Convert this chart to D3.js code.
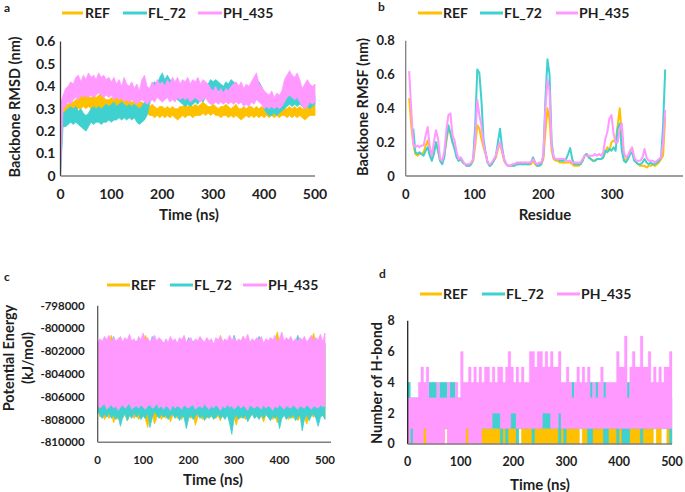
<!DOCTYPE html>
<html><head><meta charset="utf-8">
<script src="https://cdn.jsdelivr.net/npm/d3@7"></script>
<style>
body{margin:0;background:#fff}
text{font-family:Lato,"Open Sans",sans-serif;font-weight:700;fill:#1e1e1e}
</style>
</head><body>
<svg id="chart" width="685" height="492"></svg>
<script>
// ---------- shared ----------
const seriesNames = ["REF", "FL_72", "PH_435"];
const seriesColors = ["#FFC000", "#3FD0D0", "#FF99FF"];
const timeNs = d3.range(0, 501, 5);            // 0..500 ns, 5 ns bins
const residues = d3.range(5, 378, 3);          // residue numbers

// ---------- panel a : backbone RMSD (band low / high per 5 ns) ----------
const rmsdRefLo = [0.30,0.27,0.27,0.28,0.28,0.29,0.29,0.30,0.30,0.31,0.30,0.31,0.30,0.31,0.30,0.31,0.30,0.31,0.30,0.29,0.30,0.31,0.30,0.31,0.30,0.31,0.30,0.31,0.30,0.29,0.30,0.29,0.30,0.29,0.28,0.27,0.27,0.26,0.27,0.26,0.27,0.26,0.27,0.26,0.27,0.26,0.25,0.26,0.27,0.26,0.27,0.27,0.26,0.27,0.27,0.27,0.28,0.27,0.28,0.27,0.28,0.27,0.27,0.26,0.27,0.27,0.26,0.27,0.26,0.27,0.26,0.25,0.26,0.27,0.26,0.27,0.26,0.27,0.26,0.27,0.26,0.27,0.26,0.27,0.26,0.27,0.26,0.27,0.27,0.26,0.27,0.26,0.27,0.26,0.27,0.26,0.25,0.26,0.27,0.27,0.27];
const rmsdRefHi = [0.34,0.31,0.32,0.32,0.33,0.33,0.34,0.35,0.36,0.35,0.36,0.35,0.35,0.36,0.35,0.36,0.37,0.35,0.34,0.34,0.35,0.34,0.35,0.35,0.36,0.35,0.34,0.34,0.33,0.33,0.34,0.33,0.33,0.32,0.31,0.31,0.32,0.31,0.30,0.31,0.31,0.30,0.31,0.30,0.31,0.30,0.30,0.31,0.31,0.32,0.31,0.32,0.31,0.32,0.31,0.32,0.33,0.32,0.31,0.31,0.32,0.31,0.30,0.31,0.31,0.32,0.31,0.30,0.31,0.32,0.30,0.30,0.31,0.30,0.31,0.31,0.30,0.31,0.30,0.31,0.30,0.30,0.31,0.30,0.30,0.31,0.30,0.31,0.30,0.30,0.31,0.30,0.31,0.30,0.31,0.30,0.30,0.31,0.32,0.31,0.32];
const rmsdFlLo  = [0.00,0.22,0.22,0.23,0.24,0.23,0.24,0.23,0.22,0.21,0.20,0.22,0.24,0.23,0.24,0.24,0.23,0.24,0.24,0.25,0.24,0.25,0.25,0.26,0.25,0.26,0.25,0.26,0.25,0.26,0.24,0.23,0.24,0.25,0.27,0.32,0.36,0.37,0.36,0.37,0.38,0.37,0.38,0.37,0.36,0.35,0.34,0.33,0.32,0.31,0.32,0.31,0.32,0.33,0.32,0.34,0.33,0.35,0.36,0.37,0.38,0.37,0.38,0.37,0.36,0.37,0.36,0.37,0.38,0.36,0.34,0.33,0.32,0.33,0.34,0.35,0.37,0.38,0.37,0.35,0.30,0.28,0.27,0.27,0.28,0.27,0.28,0.29,0.30,0.31,0.32,0.31,0.32,0.31,0.32,0.31,0.30,0.31,0.30,0.31,0.32];
const rmsdFlHi  = [0.30,0.28,0.29,0.30,0.31,0.30,0.31,0.29,0.30,0.28,0.27,0.28,0.30,0.31,0.30,0.31,0.30,0.31,0.32,0.31,0.32,0.33,0.31,0.32,0.33,0.32,0.31,0.32,0.31,0.32,0.31,0.30,0.31,0.33,0.35,0.39,0.41,0.42,0.41,0.44,0.46,0.43,0.45,0.43,0.42,0.41,0.40,0.38,0.37,0.36,0.37,0.36,0.38,0.37,0.38,0.39,0.38,0.40,0.41,0.43,0.42,0.43,0.42,0.41,0.40,0.42,0.41,0.43,0.42,0.41,0.39,0.38,0.37,0.38,0.39,0.40,0.42,0.43,0.42,0.40,0.35,0.33,0.32,0.31,0.32,0.31,0.33,0.34,0.35,0.36,0.37,0.36,0.37,0.36,0.37,0.35,0.34,0.35,0.34,0.35,0.36];
const rmsdPhLo  = [0.00,0.30,0.31,0.33,0.32,0.34,0.35,0.34,0.36,0.35,0.36,0.35,0.36,0.35,0.36,0.37,0.36,0.35,0.36,0.35,0.36,0.34,0.35,0.34,0.35,0.33,0.34,0.33,0.34,0.33,0.32,0.33,0.34,0.33,0.32,0.33,0.34,0.33,0.35,0.34,0.33,0.34,0.35,0.33,0.34,0.33,0.35,0.34,0.35,0.34,0.35,0.33,0.34,0.35,0.34,0.33,0.34,0.35,0.33,0.32,0.32,0.33,0.32,0.33,0.32,0.33,0.32,0.33,0.32,0.33,0.32,0.33,0.31,0.32,0.31,0.33,0.32,0.34,0.33,0.32,0.30,0.31,0.30,0.31,0.30,0.31,0.30,0.31,0.33,0.35,0.36,0.35,0.34,0.35,0.33,0.31,0.30,0.31,0.33,0.32,0.33];
const rmsdPhHi  = [0.32,0.36,0.39,0.40,0.42,0.41,0.44,0.45,0.42,0.45,0.43,0.46,0.44,0.45,0.43,0.46,0.44,0.45,0.43,0.44,0.42,0.44,0.41,0.43,0.40,0.44,0.41,0.40,0.42,0.39,0.41,0.38,0.43,0.45,0.40,0.39,0.42,0.40,0.43,0.41,0.42,0.40,0.43,0.41,0.44,0.42,0.44,0.41,0.43,0.42,0.44,0.41,0.43,0.42,0.44,0.41,0.43,0.42,0.41,0.39,0.38,0.40,0.37,0.39,0.37,0.39,0.38,0.40,0.41,0.42,0.40,0.42,0.39,0.41,0.40,0.42,0.44,0.46,0.41,0.40,0.38,0.37,0.36,0.38,0.35,0.37,0.36,0.38,0.43,0.45,0.47,0.45,0.44,0.46,0.43,0.39,0.41,0.43,0.41,0.40,0.41];

// ---------- panel b : backbone RMSF per residue ----------
const rmsfRef = [0.46,0.30,0.19,0.13,0.12,0.13,0.13,0.14,0.18,0.21,0.14,0.10,0.14,0.20,0.15,0.09,0.08,0.12,0.20,0.28,0.26,0.20,0.17,0.12,0.09,0.10,0.08,0.07,0.06,0.06,0.07,0.09,0.18,0.30,0.28,0.22,0.17,0.13,0.08,0.06,0.07,0.09,0.11,0.16,0.19,0.14,0.09,0.07,0.06,0.06,0.06,0.07,0.07,0.07,0.08,0.07,0.08,0.07,0.07,0.07,0.09,0.07,0.06,0.07,0.07,0.10,0.26,0.40,0.33,0.15,0.10,0.09,0.09,0.08,0.08,0.08,0.08,0.08,0.08,0.07,0.06,0.06,0.06,0.07,0.09,0.12,0.13,0.11,0.10,0.09,0.09,0.10,0.10,0.10,0.11,0.14,0.17,0.15,0.20,0.21,0.20,0.30,0.40,0.25,0.10,0.09,0.11,0.15,0.16,0.10,0.08,0.07,0.06,0.06,0.06,0.05,0.06,0.06,0.07,0.06,0.07,0.08,0.10,0.12,0.35];
const rmsfFl  = [null,null,0.28,0.14,0.13,0.14,0.13,0.12,0.15,0.17,0.12,0.09,0.13,0.20,0.15,0.09,0.07,0.11,0.22,0.30,0.25,0.20,0.16,0.11,0.09,0.10,0.08,0.07,0.06,0.06,0.07,0.10,0.30,0.63,0.61,0.45,0.22,0.14,0.08,0.06,0.07,0.09,0.12,0.20,0.28,0.17,0.10,0.07,0.06,0.06,0.06,0.06,0.07,0.07,0.07,0.07,0.07,0.07,0.07,0.08,0.11,0.08,0.06,0.06,0.07,0.12,0.45,0.69,0.60,0.20,0.11,0.10,0.10,0.09,0.09,0.09,0.10,0.13,0.165,0.10,0.07,0.07,0.07,0.07,0.09,0.12,0.13,0.11,0.10,0.09,0.09,0.10,0.10,0.10,0.11,0.15,0.14,0.16,0.15,0.17,0.15,0.28,0.31,0.15,0.09,0.08,0.10,0.13,0.14,0.09,0.08,0.07,0.07,0.08,0.10,0.08,0.07,0.08,0.07,0.07,0.08,0.09,0.11,0.30,0.63];
const rmsfPh  = [0.62,0.40,0.19,0.17,0.18,0.17,0.18,0.18,0.24,0.29,0.17,0.12,0.20,0.27,0.22,0.10,0.09,0.14,0.27,0.36,0.37,0.24,0.21,0.14,0.10,0.11,0.09,0.07,0.07,0.07,0.08,0.10,0.22,0.45,0.36,0.30,0.19,0.14,0.08,0.07,0.08,0.10,0.12,0.17,0.20,0.15,0.10,0.07,0.06,0.06,0.07,0.07,0.08,0.08,0.08,0.08,0.08,0.08,0.08,0.08,0.10,0.08,0.07,0.08,0.08,0.12,0.40,0.57,0.50,0.18,0.11,0.10,0.10,0.10,0.10,0.10,0.09,0.09,0.09,0.08,0.08,0.08,0.08,0.08,0.10,0.12,0.12,0.12,0.12,0.12,0.13,0.12,0.13,0.12,0.14,0.22,0.26,0.34,0.36,0.25,0.20,0.20,0.28,0.31,0.14,0.11,0.12,0.15,0.17,0.11,0.09,0.09,0.09,0.11,0.16,0.11,0.09,0.09,0.09,0.08,0.09,0.10,0.11,0.20,0.39];

// ---------- panel c : potential energy (band low / high per 5 ns) ----------
const peRefLo = [-807000,-807800,-807500,-808000,-807600,-807900,-807400,-808300,-807700,-808000,-807600,-807900,-807500,-808100,-807700,-807400,-807900,-807600,-808000,-807700,-807500,-808000,-808700,-807700,-807600,-808400,-807800,-807500,-808000,-807700,-807900,-807600,-808200,-807700,-807500,-807900,-807700,-808000,-807600,-807800,-807700,-807900,-807600,-808500,-807800,-807600,-808000,-807700,-807900,-807600,-807800,-807500,-807900,-807700,-808100,-807600,-807800,-807500,-807900,-807700,-807800,-808500,-807600,-807900,-807700,-808000,-807600,-807800,-807500,-807900,-807600,-807900,-807700,-808200,-807600,-807800,-807500,-808000,-807700,-808300,-807700,-807900,-807600,-807800,-808000,-807600,-807900,-807700,-808100,-807800,-807600,-807900,-808400,-807700,-807600,-807800,-807500,-807900,-807700,-807600,-807900];
const peRefHi = [-801400,-801200,-801300,-801100,-801400,-801200,-800600,-801300,-801100,-801400,-801200,-801300,-801100,-801400,-801200,-801300,-801100,-801400,-801200,-801300,-801100,-800600,-801200,-801400,-801100,-801300,-801200,-801400,-801100,-801300,-801200,-801400,-801100,-801300,-801200,-801400,-801100,-801300,-801200,-801400,-801100,-801300,-801200,-801400,-801100,-801300,-801200,-801400,-801100,-801300,-801200,-801400,-801100,-801300,-800600,-801200,-801400,-801100,-801300,-801200,-801400,-801100,-801300,-801200,-800700,-801400,-801100,-801300,-801200,-801400,-801100,-801300,-801200,-801400,-801100,-801300,-801200,-801400,-801100,-800300,-801200,-801400,-801100,-801300,-801200,-801400,-801100,-801300,-801200,-801400,-801100,-801300,-801200,-801400,-801100,-800400,-801300,-801200,-801400,-801100,-801300];
const peFlLo  = [-807200,-807600,-807900,-807500,-807800,-807400,-807900,-807600,-808000,-807700,-808600,-807800,-807500,-808100,-807600,-807900,-807400,-807800,-807500,-808000,-807700,-807900,-807400,-808700,-807800,-807300,-807600,-807900,-807500,-807800,-807600,-808000,-807700,-807500,-807900,-807600,-808100,-807700,-807800,-808800,-807900,-807600,-808000,-807700,-807500,-807900,-807600,-808100,-807700,-807900,-807600,-808000,-807800,-807500,-807900,-807700,-808000,-807600,-808300,-809300,-807900,-807600,-808000,-807700,-807900,-807600,-808200,-807800,-807500,-807900,-807700,-808000,-807600,-807900,-807500,-807800,-808100,-807700,-807900,-807600,-808800,-807900,-807600,-808000,-807700,-807900,-807500,-808100,-807800,-807600,-809000,-807900,-807600,-808100,-807700,-807500,-807900,-808600,-807800,-807600,-808000];
const peFlHi  = [-801500,-801200,-801400,-801100,-801300,-801200,-801400,-800700,-801300,-801100,-801400,-801200,-801300,-801100,-801400,-801200,-801300,-801100,-801200,-801400,-801200,-801300,-801100,-801400,-800700,-801300,-801200,-801400,-801100,-801300,-801200,-801400,-801100,-801300,-801200,-801400,-801100,-801300,-801200,-801400,-800800,-801300,-801100,-801400,-801200,-801300,-801100,-801400,-801200,-801300,-801100,-801400,-801200,-801300,-801100,-801400,-801200,-801300,-801100,-801400,-800600,-801200,-801300,-801100,-801400,-801200,-801300,-801100,-801400,-801200,-801300,-800700,-801200,-801400,-801100,-801300,-801200,-801400,-801100,-801300,-801200,-801400,-801100,-801300,-801200,-801400,-801100,-801300,-800600,-801200,-801400,-801100,-801300,-801200,-801400,-801100,-801300,-801200,-801400,-801100,-801300];
const pePhLo  = [-806700,-807000,-806800,-806600,-807100,-806900,-806700,-807000,-806800,-807200,-806900,-806700,-807000,-806800,-806600,-807100,-806900,-806800,-807000,-806700,-806900,-807100,-806800,-806700,-807000,-806900,-806600,-807000,-806800,-807100,-806800,-806900,-807200,-806700,-807000,-806800,-806900,-807100,-806700,-806900,-807000,-806800,-806700,-807100,-806900,-806800,-807000,-806600,-806900,-807100,-806800,-807000,-806700,-806900,-807200,-806800,-807000,-806700,-806900,-806800,-807100,-806900,-806700,-807000,-806800,-806900,-807200,-806700,-806900,-807000,-806800,-806900,-807100,-806700,-807000,-806800,-806900,-807200,-806800,-807000,-806700,-806900,-807100,-806800,-806900,-807000,-806700,-806900,-807100,-806800,-806900,-807000,-806700,-806900,-807100,-806800,-806900,-807000,-806700,-806900,-806800];
const pePhHi  = [-801300,-800900,-801100,-800700,-801000,-800600,-801200,-800800,-801100,-800900,-800700,-801200,-800800,-801000,-800500,-801100,-800900,-801300,-800700,-801000,-800400,-801100,-800800,-801200,-800900,-800600,-801100,-800800,-801000,-801400,-800900,-801200,-800700,-801100,-800900,-801300,-800800,-801000,-800600,-801200,-801000,-800800,-801300,-800900,-801100,-800700,-801000,-801200,-800800,-801100,-800900,-801400,-800800,-801000,-800700,-801200,-800900,-801100,-800600,-801000,-800800,-801200,-800900,-801100,-800700,-801000,-800500,-801200,-800900,-801100,-800800,-801000,-800700,-801300,-800900,-801100,-800800,-801000,-800600,-801200,-800900,-800300,-801100,-800800,-801000,-800700,-801200,-800900,-801100,-800800,-801000,-800700,-801200,-800900,-800600,-801100,-800800,-801000,-800500,-801200,-800400];

// ---------- panel d : number of H-bonds (band low / high per 5 ns) ----------
const hbRefLo = [0,0,0,0,0,0,0,0,0,0, 0,0,0,0,1,0,0,0,0,0, 0,0,0,0,0,0,0,0,0,0, 0,0,0,0,0,0,0,0,0,0, 0,0,1,0,0,0,0,0,0,0, 0,0,0,0,0,0,0,0,0,0, 0,0,0,0,0,1,0,0,0,0, 0,0,0,0,0,0,0,0,0,0, 0,0,0,0,0,0,0,0,0,0, 0,0,0,1,0,0,1,1,0,0, 0];
const hbRefHi = [1,2,2,1,2,2,2,1,2,2, 1,2,1,2,2,1,2,2,1,2, 2,1,2,2,1,2,1,2,2,1, 1,2,1,1,2,1,2,1,1,2, 1,2,1,1,2,1,1,2,1,1, 2,1,1,2,1,1,2,1,1,2, 1,1,2,1,1,2,1,1,2,1, 1,2,1,1,2,1,1,2,1,1, 2,1,1,2,1,1,2,1,1,2, 1,1,2,1,1,2,1,1,2,1, 1];
const hbFlLo  = [1,0,0,1,1,1,1,1,1,1, 1,1,1,1,1,1,1,1,1,1, 1,1,1,1,1,1,1,1,1,1, 1,1,1,1,1,0,1,0,1,1, 1,0,1,1,1,1,1,0,1,1, 1,1,1,1,1,1,1,0,1,0, 1,1,1,1,1,1,1,1,0,0, 1,1,1,1,0,0,1,1,1,0, 1,0,0,0,1,1,1,1,0,1, 1,1,1,1,1,1,1,1,1,0, 0];
const hbFlHi  = [4,3,3,3,3,3,3,3,4,4, 4,3,4,4,4,3,4,4,3,3, 3,3,3,3,3,3,3,3,3,3, 3,3,3,3,3,3,3,3,3,3, 3,3,3,3,3,3,3,3,3,3, 3,3,3,3,3,3,3,3,3,3, 3,3,4,3,3,3,3,3,3,4, 3,4,3,3,4,3,3,3,3,3, 3,3,3,4,3,3,3,3,3,3, 3,3,3,3,3,3,3,3,3,3, 3];
const hbPhLo  = [0,1,0,0,0,0,1,0,0,0, 0,0,0,0,1,0,0,0,0,0, 0,0,1,0,0,0,0,0,1,1, 1,1,2,2,2,1,1,1,1,2, 2,1,1,1,1,1,1,1,1,1, 1,2,2,2,1,1,1,2,1,1, 1,1,1,1,1,1,1,1,1,1, 1,1,1,1,1,1,1,1,1,1, 1,1,1,1,1,1,1,1,1,1, 1,1,1,1,1,1,1,1,1,1, 1];
const hbPhHi  = [3,3,3,3,4,5,4,5,3,3, 3,4,3,3,3,4,3,3,4,3, 6,4,4,5,4,5,4,5,4,5, 5,4,5,4,5,5,4,5,6,5, 4,5,4,5,4,4,6,6,5,6, 6,5,6,5,6,5,5,6,4,4, 5,4,3,4,5,4,5,4,5,3, 4,3,4,5,3,4,4,4,4,6, 5,5,7,3,5,6,5,5,7,5, 5,6,4,5,4,5,4,5,5,6, 4];

// ---------- tick labels ----------
const ticksA_y = [0, 0.1, 0.2, 0.3, 0.4, 0.5, 0.6];
const ticksB_y = [0, 0.2, 0.4, 0.6, 0.8];
const ticksC_y = [-810000, -808000, -806000, -804000, -802000, -800000, -798000];
const ticksD_y = [0, 2, 4, 6, 8];
const ticksTime = [0, 100, 200, 300, 400, 500];
const ticksRes = [0, 100, 200, 300];

// ---------- drawing ----------
const svg = d3.select("#chart");

function drawPanel(p) {
  const g = svg.append("g");
  const x = d3.scaleLinear().domain(p.xDomain).range([p.left, p.right]);
  const y = d3.scaleLinear().domain(p.yDomain).range([p.bottom, p.top]);

  // series
  p.series.forEach((s, i) => {
    if (s.type === "band") {
      const rows = s.x.map((v, k) => ({x: v, lo: s.lo[k], hi: s.hi[k]}));
      g.append("path").datum(rows)
        .attr("fill", seriesColors[i]).attr("stroke", seriesColors[i])
        .attr("stroke-width", s.sw == null ? 0.8 : s.sw).attr("stroke-linejoin", "miter")
        .attr("d", d3.area().x(d => x(d.x)).y0(d => y(d.lo)).y1(d => y(d.hi))
          .curve(s.curve || d3.curveLinear));
    } else {
      const rows = s.x.map((v, k) => ({x: v, v: s.v[k]}));
      g.append("path").datum(rows)
        .attr("fill", "none").attr("stroke", seriesColors[i]).attr("stroke-width", 2)
        .attr("stroke-linejoin", "round")
        .attr("d", d3.line().defined(d => d.v != null).x(d => x(d.x)).y(d => y(d.v)));
    }
  });

  // axis lines
  g.append("line").attr("x1", p.left).attr("x2", p.left)
    .attr("y1", y(p.yDomain[1])).attr("y2", p.bottom)
    .attr("stroke", p.yAxisColor).attr("stroke-width", 1.3);
  g.append("line").attr("x1", p.left).attr("x2", p.xAxisEnd)
    .attr("y1", p.bottom).attr("y2", p.bottom)
    .attr("stroke", "#7f7f7f").attr("stroke-width", 1.5);

  // tick labels
  g.selectAll(null).data(p.yTicks).join("text")
    .attr("x", p.left - p.yPad).attr("y", d => y(d)).attr("dy", "0.35em")
    .attr("text-anchor", "end").style("font-size", p.tickSize + "px")
    .text(p.yFormat);
  g.selectAll(null).data(p.xTicks).join("text")
    .attr("x", d => x(d)).attr("y", p.bottom + 18).attr("dy", "0.35em")
    .attr("text-anchor", "middle").style("font-size", p.tickSize + "px")
    .text(d => d);

  // axis titles
  g.append("text").attr("x", p.xTitle[0]).attr("y", p.xTitle[1]).attr("dy", "0.35em")
    .attr("text-anchor", "middle").style("font-size", "15px").text(p.xLabel);
  p.yLabel.forEach((t, k) => {
    const [cx, cy] = p.yTitle[k];
    g.append("text").attr("transform", `translate(${cx},${cy}) rotate(-90)`)
      .attr("dy", "0.35em").attr("text-anchor", "middle").style("font-size", "14.5px").text(t);
  });

  // panel letter
  g.append("text").attr("x", p.letter[1]).attr("y", p.letter[2]).attr("dy", "0.35em")
    .style("font-size", "12px").text(p.letter[0]);

  // legend
  seriesNames.forEach((n, i) => {
    const [x1, x2, tx] = p.legend[i];
    g.append("line").attr("x1", x1).attr("x2", x2).attr("y1", p.legendY).attr("y2", p.legendY)
      .attr("stroke", seriesColors[i]).attr("stroke-width", 3);
    g.append("text").attr("x", tx).attr("y", p.legendY).attr("dy", "0.35em")
      .style("font-size", "14px").text(n);
  });
}

const fmtDec = d => d === 0 ? "0" : d3.format(".1f")(d);

drawPanel({
  left: 60.5, right: 315, top: 41.5, bottom: 176, xAxisEnd: 315,
  xDomain: [0, 500], yDomain: [0, 0.6], yAxisColor: "#3a3a3a",
  series: [
    {type: "band", x: timeNs, lo: rmsdRefLo, hi: rmsdRefHi},
    {type: "band", x: timeNs, lo: rmsdFlLo, hi: rmsdFlHi},
    {type: "band", x: timeNs, lo: rmsdPhLo, hi: rmsdPhHi}
  ],
  yTicks: ticksA_y, yFormat: fmtDec, xTicks: ticksTime, yPad: 5, tickSize: 14,
  xLabel: "Time (ns)", xTitle: [189, 215], yLabel: ["Backbone RMSD (nm)"], yTitle: [[15, 107]],
  letter: ["a", 4, 8], legendY: 13,
  legend: [[62, 83, 85], [123, 147, 148], [198, 222, 223]]
});

drawPanel({
  left: 405.7, right: 681, top: 40.7, bottom: 176, xAxisEnd: 683,
  xDomain: [0, 400], yDomain: [0, 0.8], yAxisColor: "#7f7f7f",
  series: [
    {type: "line", x: residues, v: rmsfRef},
    {type: "line", x: residues, v: rmsfFl},
    {type: "line", x: residues, v: rmsfPh}
  ],
  yTicks: ticksB_y, yFormat: fmtDec, xTicks: ticksRes, yPad: 11, tickSize: 13,
  xLabel: "Residue", xTitle: [545, 215], yLabel: ["Backbone RMSF (nm)"], yTitle: [[363, 107]],
  letter: ["b", 378, 7], legendY: 13,
  legend: [[418, 442, 443], [480, 503, 504], [556, 578, 579]]
});

drawPanel({
  left: 97.7, right: 325, top: 305.7, bottom: 442.3, xAxisEnd: 331,
  xDomain: [0, 500], yDomain: [-810000, -798000], yAxisColor: "#5a5a5a",
  series: [
    {type: "band", x: timeNs, lo: peRefLo, hi: peRefHi},
    {type: "band", x: timeNs, lo: peFlLo, hi: peFlHi},
    {type: "band", x: timeNs, lo: pePhLo, hi: pePhHi}
  ],
  yTicks: ticksC_y, yFormat: d => d3.format("d")(d).replace("\u2212", "-"), xTicks: ticksTime, yPad: 13, tickSize: 11.5,
  xLabel: "Time (ns)", xTitle: [213, 480], yLabel: ["Potential Energy", "(kJ/mol)"], yTitle: [[9, 358], [28, 358]],
  letter: ["c", 4, 277], legendY: 285,
  legend: [[107, 130, 131], [170, 193, 194], [243, 267, 268]]
});

drawPanel({
  left: 407.7, right: 672, top: 320.7, bottom: 444, xAxisEnd: 672,
  xDomain: [0, 500], yDomain: [0, 8], yAxisColor: "#222",
  series: [
    {type: "band", x: timeNs, lo: hbRefLo, hi: hbRefHi, curve: d3.curveStepAfter, sw: 0.3},
    {type: "band", x: timeNs, lo: hbFlLo, hi: hbFlHi, curve: d3.curveStepAfter, sw: 0.3},
    {type: "band", x: timeNs, lo: hbPhLo, hi: hbPhHi, curve: d3.curveStepAfter, sw: 0.3}
  ],
  yTicks: ticksD_y, yFormat: d => d, xTicks: ticksTime, yPad: 13, tickSize: 12.5,
  xLabel: "Time (ns)", xTitle: [540, 485], yLabel: ["Number of H-bond"], yTitle: [[377, 383]],
  letter: ["d", 379, 274], legendY: 294,
  legend: [[420, 442, 443], [482, 505, 506], [557, 580, 581]]
});
</script>
</body></html>
